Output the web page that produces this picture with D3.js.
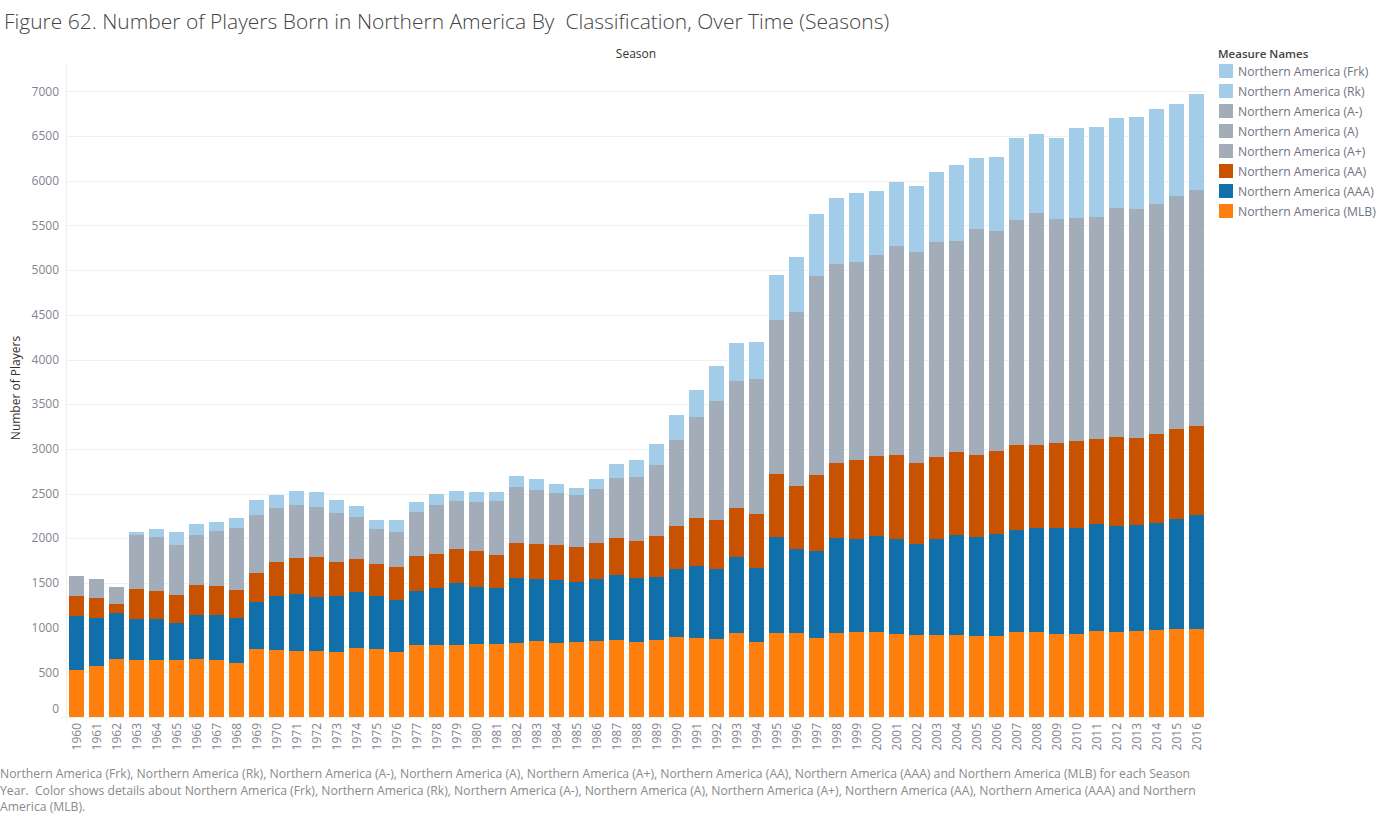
<!DOCTYPE html>
<html>
<head>
<meta charset="utf-8">
<script src="https://cdn.jsdelivr.net/npm/d3@7/dist/d3.min.js"></script>
<style>
html,body{margin:0;padding:0;background:#fff;}
svg{display:block;}
text{font-family:"Open Sans",sans-serif;}
</style>
</head>
<body>
<svg id="chart" width="1380" height="816"></svg>
<script>
const seasons = d3.range(1960, 2017).map(String);

const mlb = [526,571,649,638,638,638,649,638,604,761,750,738,738,727,772,761,727,805,805,805,
  817,817,828,850,828,839,850,861,839,861,895,884,873,940,839,940,940,884,940,951,
  951,929,917,917,917,906,906,951,951,929,929,962,951,962,973,984,984];
const aaa = [604,537,515,459,459,414,492,503,503,526,604,638,604,626,626,593,582,604,638,694,
  638,626,727,694,705,671,694,727,716,705,761,805,783,850,828,1074,940,973,1063,1040,
  1074,1062,1018,1074,1119,1108,1141,1141,1163,1185,1185,1197,1186,1186,1197,1231,1276];
const aa = [224,224,101,336,313,313,336,324,313,324,380,403,447,380,369,358,369,392,380,380,
  403,369,392,392,392,392,403,414,414,459,481,537,548,548,604,705,705,850,839,884,
  895,940,907,918,929,917,929,951,929,951,974,951,995,973,996,1007,995];
// The A-, A and A+ measures share one colour and cannot be told apart in the picture.
const aLevels = [224,213,190,604,604,559,559,615,694,649,604,593,559,548,470,392,392,492,548,537,
  548,604,626,604,582,582,604,671,716,794,962,1130,1331,1421,1510,1722,1946,2226,2226,2215,
  2248,2338,2360,2405,2360,2528,2461,2517,2595,2506,2494,2484,2562,2562,2573,2607,2640];
// The Rk and Frk measures share one colour as well.
const rookieLevels = [0,0,0,34,89,145,123,101,112,168,145,157,168,145,123,101,134,112,123,112,
  112,101,123,123,101,78,112,157,190,235,280,302,392,425,414,504,615,694,738,772,
  716,716,738,783,850,795,828,917,884,906,1007,1006,1007,1029,1063,1029,1075];

const yTicks = d3.range(0, 7001, 500);
const legendNames = ["Northern America (Frk)","Northern America (Rk)","Northern America (A-)",
  "Northern America (A)","Northern America (A+)","Northern America (AA)",
  "Northern America (AAA)","Northern America (MLB)"];
const legendColors = ["#A3CCE9","#A3CCE9","#A3ACB9","#A3ACB9","#A3ACB9","#C85200","#1170AA","#FF7F0E"];
const bandKeys = ["mlb","aaa","aa","aLevels","rookieLevels"];
const bandColors = ["#FF7F0E","#1170AA","#C85200","#A3ACB9","#A3CCE9"];

const titleText = "Figure 62. Number of Players Born in Northern America By  Classification, Over Time (Seasons)";
const footerLines = [
  "Northern America (Frk), Northern America (Rk), Northern America (A-), Northern America (A), Northern America (A+), Northern America (AA), Northern America (AAA) and Northern America (MLB) for each Season",
  "Year.  Color shows details about Northern America (Frk), Northern America (Rk), Northern America (A-), Northern America (A), Northern America (A+), Northern America (AA), Northern America (AAA) and Northern",
  "America (MLB)."
];

const left = 66.5, right = 1206.5, bottom = 717, top7000 = 91.4, axisTop = 63;
const svg = d3.select("#chart");

const x = d3.scaleBand().domain(seasons).range([left, right]).paddingInner(0.25).paddingOuter(0.125);
const y = d3.scaleLinear().domain([0, 7000]).range([bottom, top7000]);

const rows = seasons.map((s, i) => ({season: s, mlb: mlb[i], aaa: aaa[i], aa: aa[i], aLevels: aLevels[i], rookieLevels: rookieLevels[i]}));
const stacked = d3.stack().keys(bandKeys)(rows);
const color = d3.scaleOrdinal(bandKeys, bandColors);

const lineColor = "#f0f0f0";

// gridlines
svg.append("g").selectAll("line").data(yTicks.slice(1)).join("line")
  .attr("x1", left).attr("x2", right)
  .attr("y1", d => Math.round(y(d)) + 0.5).attr("y2", d => Math.round(y(d)) + 0.5)
  .attr("stroke", lineColor);

// axis frame
svg.append("line").attr("x1", left).attr("x2", left).attr("y1", axisTop).attr("y2", bottom).attr("stroke", lineColor);
svg.append("line").attr("x1", 61).attr("x2", right).attr("y1", bottom + 0.5).attr("y2", bottom + 0.5).attr("stroke", lineColor);

// x-axis separators between seasons
const step = x.step();
svg.append("g").selectAll("line").data(d3.range(seasons.length + 1)).join("line")
  .attr("x1", i => left + i * step).attr("x2", i => left + i * step)
  .attr("y1", bottom).attr("y2", bottom + 5)
  .attr("stroke", lineColor);

// bars
svg.append("g").selectAll("g").data(stacked).join("g")
  .attr("fill", d => color(d.key))
  .selectAll("rect").data(d => d).join("rect")
  .attr("shape-rendering", "crispEdges")
  .attr("x", d => x(d.data.season))
  .attr("width", x.bandwidth())
  .attr("y", d => y(d[1]))
  .attr("height", d => y(d[0]) - y(d[1]));

const tickColor = "#7f8590";

// y tick labels
svg.append("g").selectAll("text").data(yTicks).join("text")
  .attr("x", 59).attr("y", d => d === 0 ? y(d) - 8 : y(d))
  .attr("dy", "0.35em").attr("text-anchor", "end")
  .attr("font-size", 12).attr("fill", tickColor)
  .text(d => d);

// x tick labels
svg.append("g").selectAll("text").data(seasons).join("text")
  .attr("transform", d => `translate(${x(d) + x.bandwidth() / 2},723) rotate(-90)`)
  .attr("dy", "0.35em").attr("text-anchor", "end")
  .attr("font-size", 12).attr("fill", tickColor)
  .text(d => d);

// titles
svg.append("text").attr("x", 4).attr("y", 29).attr("font-size", 21).attr("font-weight", 300)
  .attr("fill", "#444").style("white-space", "pre").text(titleText);
svg.append("text").attr("x", 636).attr("y", 58).attr("text-anchor", "middle")
  .attr("font-size", 12).attr("fill", "#333").text("Season");
svg.append("text").attr("transform", "translate(20,388) rotate(-90)").attr("text-anchor", "middle")
  .attr("font-size", 12).attr("fill", "#333").text("Number of Players");

// legend
svg.append("text").attr("x", 1218).attr("y", 58).attr("font-size", 11.5).attr("font-weight", 600)
  .attr("fill", "#444").text("Measure Names");
const lg = svg.append("g").selectAll("g").data(legendNames).join("g")
  .attr("transform", (d, i) => `translate(1219,${64 + i * 20})`);
lg.append("rect").attr("width", 14).attr("height", 14).attr("fill", (d, i) => legendColors[i]);
lg.append("text").attr("x", 19).attr("y", 8).attr("dy", "0.35em")
  .attr("font-size", 12.2).attr("fill", "#6f7580").text(d => d);

// footer
svg.append("g").selectAll("text").data(footerLines).join("text")
  .attr("x", 0).attr("y", (d, i) => 778 + i * 16.5)
  .attr("font-size", 12.2).attr("fill", "#8a8a8a")
  .style("white-space", "pre").text(d => d);
</script>
</body>
</html>
